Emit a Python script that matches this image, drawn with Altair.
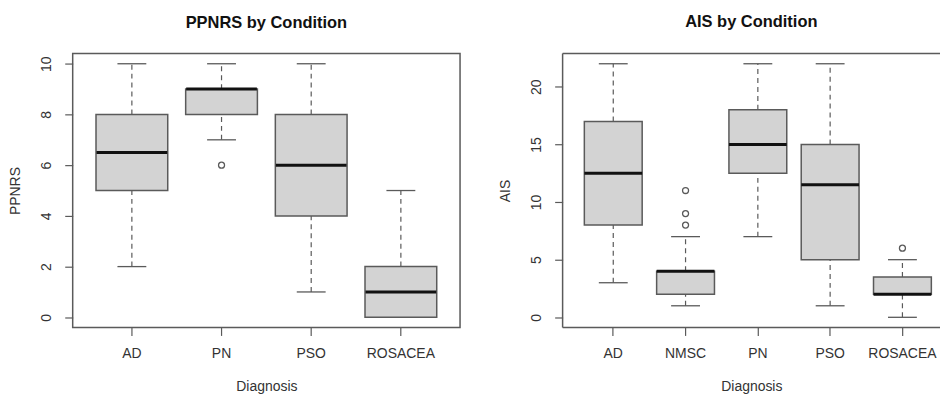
import altair as alt
import pandas as pd

# ---- PPNRS panel data ----
ppnrs_cats = ["AD", "PN", "PSO", "ROSACEA"]
ppnrs_low = [2, 7, 1, 0]
ppnrs_q1 = [5, 8, 4, 0]
ppnrs_med = [6.5, 9, 6, 1]
ppnrs_q3 = [8, 9, 8, 2]
ppnrs_high = [10, 10, 10, 5]
ppnrs_out_cat = ["PN"]
ppnrs_out_val = [6]
ppnrs_ticks = [0, 2, 4, 6, 8, 10]

# ---- AIS panel data ----
ais_cats = ["AD", "NMSC", "PN", "PSO", "ROSACEA"]
ais_low = [3, 1, 7, 1, 0]
ais_q1 = [8, 2, 12.5, 5, 2]
ais_med = [12.5, 4, 15, 11.5, 2]
ais_q3 = [17, 4, 18, 15, 3.5]
ais_high = [22, 7, 22, 22, 5]
ais_out_cat = ["NMSC", "NMSC", "NMSC", "ROSACEA"]
ais_out_val = [8, 9, 11, 6]
ais_ticks = [0, 5, 10, 15, 20]

FONT = "Liberation Sans"
LINE = "#5a5a5a"


def panel(title, ytitle, cats, low, q1, med, q3, high, out_cat, out_val,
          ticks, width, height, box_px, pad_outer=0.26, align=0.5,
          open_right=False):
    df = pd.DataFrame({"Diagnosis": cats, "low": low, "q1": q1, "med": med,
                       "q3": q3, "high": high})
    dfo = pd.DataFrame({"Diagnosis": out_cat, "val": out_val})
    vmin = min(low + out_val)
    vmax = max(high + out_val)
    ext = (vmax - vmin) * 0.04
    yscale = alt.Scale(domain=[vmin - ext, vmax + ext], nice=False, zero=False)
    xscale = alt.Scale(domain=cats, paddingInner=0.2, paddingOuter=pad_outer,
                       align=align)
    x = alt.X("Diagnosis:N", scale=xscale, sort=None,
              axis=alt.Axis(title="Diagnosis", labelAngle=0))
    xplain = alt.X("Diagnosis:N", scale=xscale, sort=None)
    yaxis = alt.Axis(title=ytitle, values=ticks, labelAngle=270,
                     labelAlign="center", labelBaseline="bottom")

    base = alt.Chart(df)
    wh_up = base.mark_rule(color=LINE, strokeWidth=1.2, strokeDash=[5, 4]).encode(
        x=x, y=alt.Y("q3:Q", scale=yscale, axis=yaxis), y2="high:Q")
    wh_dn = base.mark_rule(color=LINE, strokeWidth=1.2, strokeDash=[5, 4]).encode(
        x=xplain, y=alt.Y("low:Q"), y2="q1:Q")
    cap_hi = base.mark_tick(color=LINE, size=29, thickness=1.3, opacity=1).encode(
        x=xplain, y=alt.Y("high:Q"))
    cap_lo = base.mark_tick(color=LINE, size=29, thickness=1.3, opacity=1).encode(
        x=xplain, y=alt.Y("low:Q"))
    box = base.mark_bar(fill="#d3d3d3", stroke=LINE, strokeWidth=1.5).encode(
        x=xplain, y=alt.Y("q1:Q"), y2="q3:Q")
    median = base.mark_tick(color="#111111", size=box_px, thickness=3,
                            opacity=1).encode(x=xplain, y=alt.Y("med:Q"))
    outl = alt.Chart(dfo).mark_point(shape="circle", filled=False, color=LINE,
                                     size=36, strokeWidth=1.3, opacity=1).encode(
        x=xplain, y=alt.Y("val:Q"))
    layers = [wh_up, wh_dn, cap_hi, cap_lo, box, median, outl]
    props = dict(title=title, width=width, height=height)
    if open_right:
        # frame on top, bottom and left only (right edge runs off the page)
        fr = base.transform_aggregate(n="count()").mark_rule(
            color=LINE, strokeWidth=1.5)
        layers += [
            fr.encode(x=alt.value(0), x2=alt.value(width), y=alt.value(0)),
            fr.encode(x=alt.value(0), x2=alt.value(width), y=alt.value(height)),
            fr.encode(x=alt.value(0), y=alt.value(0), y2=alt.value(height)),
        ]
        props["view"] = alt.ViewBackground(stroke="transparent")
    return alt.layer(*layers).properties(**props)


left = panel("PPNRS by Condition", "PPNRS", ppnrs_cats, ppnrs_low, ppnrs_q1,
             ppnrs_med, ppnrs_q3, ppnrs_high, ppnrs_out_cat, ppnrs_out_val,
             ppnrs_ticks, 389, 275, 71)
right = panel("AIS by Condition", "AIS", ais_cats, ais_low, ais_q1, ais_med,
              ais_q3, ais_high, ais_out_cat, ais_out_val, ais_ticks, 379, 275, 58,
              pad_outer=0.2102, align=0.715, open_right=True)

chart = alt.hconcat(left, right, spacing=37).properties(
    padding={"left": 8, "top": 12, "right": 0, "bottom": 0}
).configure_view(
    stroke=LINE, strokeWidth=1.5
).configure_axis(
    domain=False, grid=False, ticks=True, tickSize=8, tickColor=LINE,
    tickWidth=1.2, labelFont=FONT, labelFontSize=14, labelColor="#333333",
    labelPadding=11, titleFont=FONT, titleFontSize=14, titleFontWeight="normal",
    titleColor="#333333"
).configure_axisX(
    titlePadding=19
).configure_axisY(
    titlePadding=17
).configure_title(
    font=FONT, fontSize=16.5, fontWeight="bold", color="#111111", offset=22.5,
    anchor="middle"
)

chart.save("out.html", embed_options={"renderer": "svg", "actions": False})
